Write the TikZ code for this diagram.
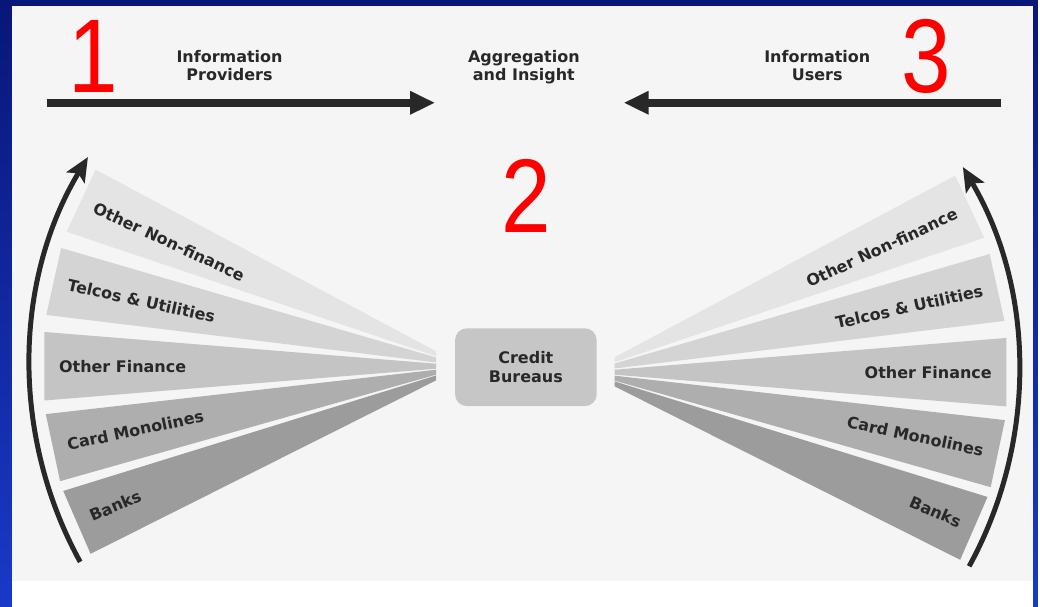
\documentclass[tikz,border=0pt]{standalone}
\usepackage{fontspec}
\setmainfont{DejaVu Sans}
\newfontfamily\numfont{Liberation Sans}
\usetikzlibrary{arrows.meta,calc}

\definecolor{navytop}{RGB}{8,22,120}
\definecolor{navybot}{RGB}{24,58,200}
\definecolor{panel}{RGB}{245,245,245}
\definecolor{ink}{RGB}{40,40,40}
\definecolor{wedgeA}{RGB}{228,228,228}
\definecolor{wedgeB}{RGB}{212,212,212}
\definecolor{wedgeC}{RGB}{196,196,196}
\definecolor{wedgeD}{RGB}{174,174,174}
\definecolor{wedgeE}{RGB}{156,156,156}
\definecolor{boxgray}{RGB}{198,198,198}

\tikzset{
   heading/.style = { font=\bfseries\fontsize{16}{18}\selectfont, text=ink, align=center,
                      anchor=north, inner sep=0pt },
    bignum/.style = { font=\numfont\fontsize{105}{105}\selectfont, text=red, anchor=base,
                      inner sep=0pt },
    bureau/.style = { font=\bfseries\fontsize{16}{19}\selectfont, text=ink, align=center,
                      fill=boxgray, rounded corners=12pt, minimum width=142pt,
                      minimum height=78pt },
  segtext/.style  = { font=\bfseries\fontsize{16}{18}\selectfont, text=ink, inner sep=2pt },
      flow/.style = { line width=8pt, draw=ink, -{Triangle[length=25pt,width=22pt]} },
     sweep/.style = { line width=5pt, draw=ink, -{Stealth[length=24pt,width=21pt,inset=5pt]} },
}
\newcommand*{\digit}[1]{\scalebox{0.85}[1]{#1}}

\begin{document}
\begin{tikzpicture}[x=1pt,y=1pt]
  % slide frame
  \shade[top color=navytop, bottom color=navybot] (0,0) rectangle (1040,608);
  \fill[white] (12,0) rectangle (1035,26);
  \fill[panel] (12,26) rectangle (1035,602);

  % headings and step numbers
  \node[heading] (providers) at (230,558) {Information\\Providers};
  \node[heading] (insight)   at (525,558) {Aggregation\\and Insight};
  \node[heading] (users)     at (819,558) {Information\\Users};
  \node[bignum] (one)   at (93,515)  {\digit{1}};
  \node[bignum] (two)   at (527,375) {\digit{2}};
  \node[bignum] (three) at (928,515) {\digit{3}};

  \coordinate (provstart) at (47,505);
  \coordinate (provend)   at (436,505);
  \coordinate (userstart) at (1003,505);
  \coordinate (userend)   at (625,505);
  \draw[flow] (provstart) -- (provend);
  \draw[flow] (userstart) -- (userend);

  % bureau in the middle
  \node[bureau] (bureau) at (527,240) {Credit\\Bureaus};

  \coordinate (provapex) at (437,241);
  \coordinate (userapex) at (616,235);

  % fans
  \foreach \a/\tone/\txt [count=\i] in {25/wedgeA/Other Non-finance,
                                         12.5/wedgeB/Telcos \& Utilities,
                                         0/wedgeC/Other Finance,
                                         -12/wedgeD/Card Monolines,
                                         -23.5/wedgeE/Banks} {
    \fill[\tone] ($(provapex)+(0,0.5*\a+2.5)$) -- ($(provapex)+(180-\a-5:394)$)
      -- ($(provapex)+(180-\a+5:394)$) -- ($(provapex)+(0,0.5*\a-2.5)$) -- cycle;
    \fill[\tone] ($(userapex)+(0,0.5*\a+2.5)$) -- ($(userapex)+(\a+5:394)$)
      -- ($(userapex)+(\a-5:394)$) -- ($(userapex)+(0,0.5*\a-2.5)$) -- cycle;
    \node[segtext, anchor=west, rotate=-\a] (prov-\i) at ($(provapex)+(180-\a:380)$) {\txt};
    \node[segtext, anchor=east, rotate=\a]  (user-\i) at ($(userapex)+(\a:380)$) {\txt};
  }

  % sweeping arrows
  \coordinate (provlow) at ($(provapex)+(208.8:407)$);
  \coordinate (userlow) at ($(userapex)+(-28.7:405)$);
  \draw[sweep] (provlow) arc[start angle=208.8, end angle=149, radius=407];
  \draw[sweep] (userlow) arc[start angle=-28.7, end angle=30.5, radius=405];
\end{tikzpicture}
\end{document}
